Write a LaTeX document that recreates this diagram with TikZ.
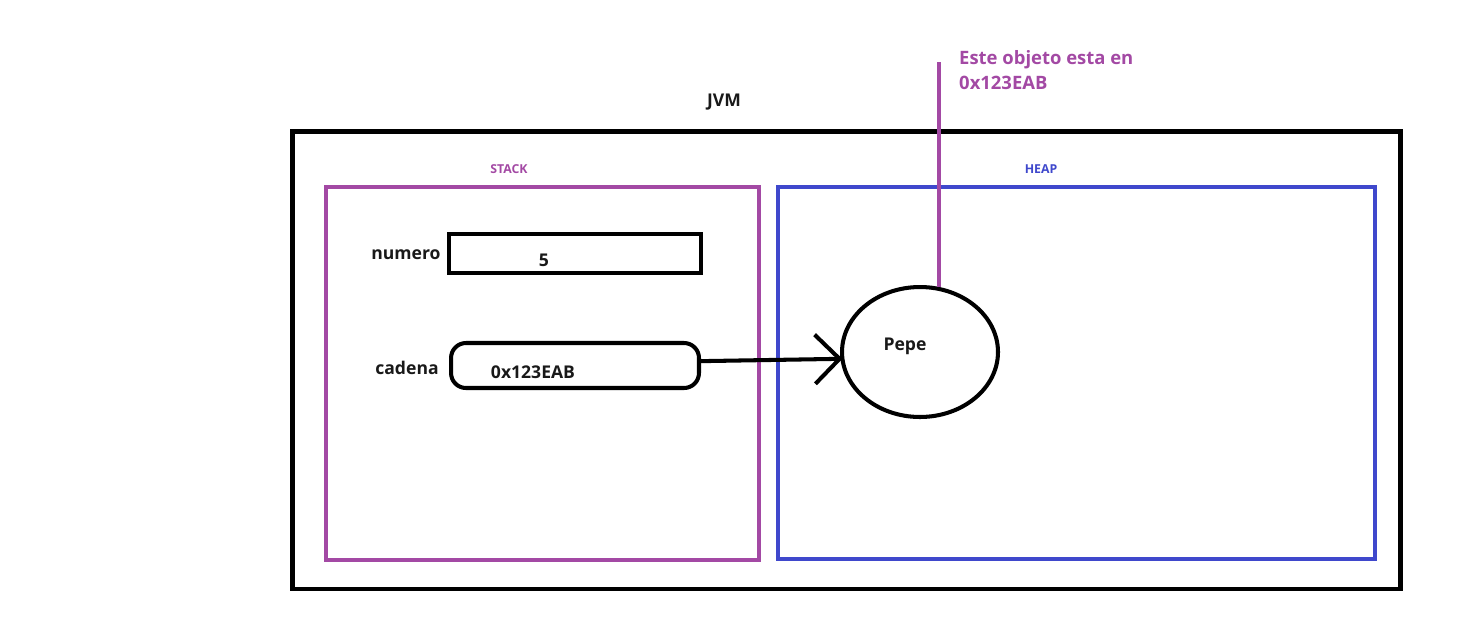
\documentclass[tikz,border=0pt]{standalone}
\usepackage{fontspec}
\setmainfont{Open Sans}
\usetikzlibrary{arrows.meta, positioning, shapes.geometric}
\definecolor{stackpurple}{RGB}{163,73,164}
\definecolor{heapblue}{RGB}{63,72,204}
\definecolor{inkblack}{RGB}{25,25,25}

\begin{document}
\begin{tikzpicture}[
		x=0.02cm,
		y=-0.02cm,
		font=\bfseries\fontsize{10}{12}\selectfont,
		area/.style={draw, line width=2.3pt, inner sep=0pt, outer sep=0pt},
		slot/.style={draw=black, line width=2.3pt, inner sep=0pt, outer sep=0pt},
		tag/.style={font=\bfseries\fontsize{7}{8}\selectfont}
		]
		\useasboundingbox (0,0) rectangle (1459,643);
		
		% JVM frame
		\node[area, draw=black, line width=2.8pt, minimum width=22.18cm, minimum height=9.16cm] (jvm) at (846.5,360) {};
		\node[text=inkblack] (jvmlabel) at (724,102) {JVM};
		
		% Stack and heap
		\node[area, draw=stackpurple, minimum width=8.66cm, minimum height=7.46cm] (stack) at (542.5,373.5) {};
		\node[tag, text=stackpurple] (stacklabel) at (509,169) {STACK};
		\node[area, draw=heapblue, minimum width=11.94cm, minimum height=7.44cm] (heap) at (1076.5,373) {};
		\node[tag, text=heapblue] (heaplabel) at (1041,169) {HEAP};
		
		% Variables on the stack
		\node[text=inkblack] (numerolabel) at (406,255) {numero};
		\node[slot, minimum width=5.04cm, minimum height=0.78cm] (numero) at (575,253.5) {};
		\node[text=inkblack] (numeroval) at (544,260) {5};
		
		\node[text=inkblack] (cadenalabel) at (407,368) {cadena};
		\node[slot, rounded corners=0.3cm, minimum width=4.96cm, minimum height=0.9cm] (cadena) at (575,365.5) {};
		\node[text=inkblack] (cadenaval) at (533,372) {0x123EAB};
		
		% Object on the heap
		\node[slot, ellipse, minimum width=3.12cm, minimum height=2.6cm] (pepe) at (920,352) {};
		\node[text=inkblack] (pepelabel) at (905,346) {Pepe};
		
		\draw[line width=2.3pt, -{Straight Barb[length=14pt, width=28pt, line width=2.3pt]}] (cadena.2) -- (pepe.185);
		
		% Note
		\coordinate (notetop) at (939,62);
		\draw[stackpurple, line width=2.5pt] (notetop) -- (notetop |- pepe.north);
		\node[text=stackpurple, font=\bfseries\fontsize{10.5}{14.5}\selectfont, align=left, anchor=north west] (note) at (953,44) {Este objeto esta en\\0x123EAB};
		
	\end{tikzpicture}
\end{document}
